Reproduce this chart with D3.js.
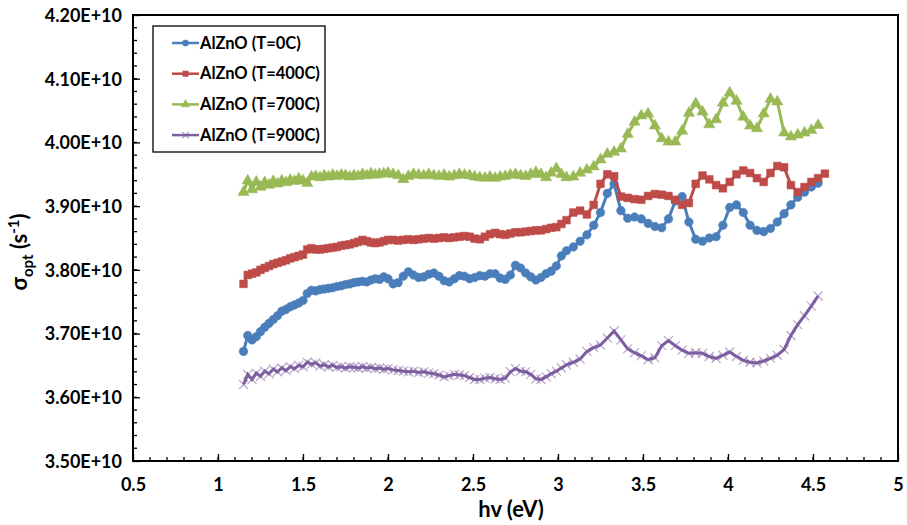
<!DOCTYPE html>
<html>
<head>
<meta charset="utf-8">
<script src="https://cdn.jsdelivr.net/npm/d3@7"></script>
<style>
  body { margin: 0; background: #fff; }
  svg text { font-family: Lato, "Open Sans", sans-serif; font-weight: bold; fill: #000; }
</style>
</head>
<body>
<div id="chart"></div>
<script>
// photon energy (eV), shared by all four series
var hv = [
  1.15, 1.175, 1.2, 1.225, 1.25, 1.275, 1.3, 1.325, 1.35, 1.375, 1.4, 1.425, 1.45, 1.475, 1.5, 1.525, 1.55, 1.575,
  1.6, 1.625, 1.65, 1.675, 1.7, 1.725, 1.75, 1.775, 1.8, 1.825, 1.85, 1.875, 1.9, 1.925, 1.95, 1.975, 2.0,
  2.03, 2.06, 2.09, 2.12, 2.15, 2.18, 2.21, 2.24, 2.27, 2.30, 2.33, 2.36, 2.39, 2.42, 2.45, 2.48, 2.51,
  2.54, 2.57, 2.60, 2.63, 2.66, 2.69, 2.72, 2.75, 2.78, 2.81, 2.84, 2.87, 2.90, 2.93, 2.96, 2.99, 3.02,
  3.05, 3.09, 3.13, 3.17, 3.21, 3.25, 3.29, 3.33, 3.37, 3.41, 3.45, 3.49, 3.53, 3.57, 3.61, 3.65, 3.69,
  3.73, 3.77, 3.81, 3.85, 3.89, 3.93, 3.97, 4.01, 4.05, 4.09, 4.13, 4.17, 4.21, 4.25, 4.29, 4.33, 4.37,
  4.41, 4.45, 4.49, 4.53, 4.57
]

// sigma_opt in units of 1E+10 s^-1
var t0 = [
  3.672, 3.697, 3.690, 3.695, 3.703, 3.710, 3.716, 3.722, 3.728, 3.735, 3.738, 3.742, 3.745, 3.748, 3.752, 3.763, 3.768, 3.767,
  3.769, 3.770, 3.771, 3.772, 3.774, 3.775, 3.777, 3.778, 3.780, 3.781, 3.782, 3.781, 3.784, 3.786, 3.785, 3.789, 3.786,
  3.778, 3.780, 3.790, 3.797, 3.792, 3.788, 3.789, 3.793, 3.795, 3.790, 3.783, 3.781, 3.786, 3.791, 3.790, 3.786, 3.788,
  3.791, 3.790, 3.794, 3.794, 3.787, 3.785, 3.792, 3.807, 3.803, 3.795, 3.789, 3.784, 3.788, 3.794, 3.798, 3.806, 3.822,
  3.830, 3.836, 3.845, 3.855, 3.870, 3.890, 3.920, 3.935, 3.893, 3.881, 3.883, 3.880, 3.873, 3.868, 3.866, 3.880, 3.908,
  3.915, 3.875, 3.848, 3.845, 3.850, 3.852, 3.870, 3.898, 3.902, 3.890, 3.870, 3.862, 3.860, 3.865, 3.875, 3.888, 3.902,
  3.914, 3.922, 3.930, 3.936, null
]
var t400 = [
  3.778, 3.792, 3.794, 3.796, 3.800, 3.803, 3.806, 3.809, 3.811, 3.813, 3.815, 3.818, 3.820, 3.822, 3.824, 3.832, 3.834, 3.832,
  3.832, 3.833, 3.834, 3.835, 3.836, 3.838, 3.839, 3.840, 3.842, 3.844, 3.847, 3.845, 3.843, 3.842, 3.843, 3.845, 3.847,
  3.847, 3.846, 3.847, 3.848, 3.847, 3.848, 3.849, 3.850, 3.849, 3.850, 3.851, 3.850, 3.851, 3.852, 3.853, 3.852, 3.849,
  3.848, 3.852, 3.856, 3.858, 3.856, 3.855, 3.857, 3.859, 3.859, 3.860, 3.861, 3.862, 3.862, 3.864, 3.866, 3.867, 3.872,
  3.878, 3.890, 3.893, 3.887, 3.902, 3.935, 3.950, 3.947, 3.915, 3.913, 3.911, 3.910, 3.916, 3.919, 3.918, 3.916, 3.910,
  3.902, 3.905, 3.935, 3.948, 3.942, 3.933, 3.928, 3.938, 3.950, 3.956, 3.952, 3.944, 3.938, 3.952, 3.963, 3.961, 3.933,
  3.922, 3.930, 3.938, 3.944, 3.951
]
var t700 = [
  3.922, 3.940, 3.926, 3.938, 3.930, 3.937, 3.933, 3.939, 3.935, 3.940, 3.937, 3.941, 3.939, 3.943, 3.940, 3.936, 3.946, 3.947,
  3.945, 3.948, 3.946, 3.949, 3.947, 3.949, 3.948, 3.946, 3.948, 3.947, 3.950, 3.948, 3.951, 3.949, 3.950, 3.951, 3.952,
  3.950, 3.948, 3.942, 3.947, 3.950, 3.949, 3.948, 3.950, 3.948, 3.947, 3.949, 3.946, 3.948, 3.950, 3.949, 3.948, 3.946,
  3.945, 3.944, 3.946, 3.944, 3.946, 3.947, 3.949, 3.950, 3.948, 3.947, 3.950, 3.953, 3.950, 3.945, 3.952, 3.959, 3.950,
  3.945, 3.946, 3.952, 3.957, 3.962, 3.973, 3.982, 3.985, 3.990, 4.013, 4.032, 4.042, 4.045, 4.026, 4.006, 4.001, 4.001,
  4.018, 4.046, 4.061, 4.048, 4.028, 4.036, 4.062, 4.078, 4.065, 4.040, 4.026, 4.022, 4.045, 4.068, 4.064, 4.015, 4.009,
  4.012, 4.015, 4.019, 4.027, null
]
var t900 = [
  3.620, 3.636, 3.628, 3.638, 3.633, 3.641, 3.637, 3.644, 3.640, 3.646, 3.642, 3.648, 3.645, 3.650, 3.648, 3.655, 3.652, 3.654,
  3.649, 3.651, 3.648, 3.650, 3.647, 3.648, 3.646, 3.648, 3.647, 3.646, 3.648, 3.646, 3.647, 3.645, 3.646, 3.644, 3.645,
  3.643, 3.642, 3.641, 3.640, 3.641, 3.639, 3.640, 3.638, 3.637, 3.635, 3.632, 3.634, 3.636, 3.635, 3.634, 3.631, 3.628,
  3.628, 3.630, 3.631, 3.629, 3.628, 3.630, 3.640, 3.645, 3.641, 3.640, 3.636, 3.629, 3.628, 3.632, 3.637, 3.641, 3.646,
  3.651, 3.655, 3.660, 3.672, 3.678, 3.682, 3.693, 3.704, 3.690, 3.676, 3.670, 3.665, 3.659, 3.662, 3.681, 3.689, 3.681,
  3.674, 3.669, 3.670, 3.669, 3.664, 3.661, 3.666, 3.671, 3.664, 3.658, 3.655, 3.654, 3.657, 3.661, 3.666, 3.675, 3.697,
  3.714, 3.728, 3.743, 3.759, null
]

var seriesNames = ["AlZnO (T=0C)", "AlZnO (T=400C)", "AlZnO (T=700C)", "AlZnO (T=900C)"]
var seriesValues = [t0, t400, t700, t900]
var colors = ["#4a7ebb", "#be4b48", "#98b954", "#7d5fa0"]
var markers = ["circle", "square", "triangle", "cross"]

var xTicks = [0.5, 1, 1.5, 2, 2.5, 3, 3.5, 4, 4.5, 5]
var yTicks = [3.5, 3.6, 3.7, 3.8, 3.9, 4.0, 4.1, 4.2]

var width = 907, height = 525
var plotL = 133, plotR = 898, plotT = 15, plotB = 461

var svg = d3.select("#chart").append("svg")
    .attr("width", width)
    .attr("height", height)

var x = d3.scaleLinear().domain([0.5, 5]).range([plotL, plotR])
var y = d3.scaleLinear().domain([3.5, 4.2]).range([plotB, plotT])

// minor ticks (inside)
var xMinor = d3.range(0.5, 5.001, 0.1)
var yMinor = d3.range(3.5, 4.2001, 0.02)

svg.append("g").selectAll("line").data(xMinor).enter().append("line")
    .attr("x1", d => x(d)).attr("x2", d => x(d))
    .attr("y1", plotB).attr("y2", plotB - 4)
    .attr("stroke", "#000").attr("stroke-width", 1.3)
svg.append("g").selectAll("line").data(yMinor).enter().append("line")
    .attr("x1", plotL).attr("x2", plotL + 4)
    .attr("y1", d => y(d)).attr("y2", d => y(d))
    .attr("stroke", "#000").attr("stroke-width", 1.3)

// axes with major ticks pointing inward
var xAxis = d3.axisBottom(x).tickValues(xTicks).tickSize(-7).tickPadding(17)
    .tickFormat(d => String(d))
var yAxis = d3.axisLeft(y).tickValues(yTicks).tickSize(-7).tickPadding(11)
    .tickFormat(d => d.toFixed(2) + "E+10")

var gx = svg.append("g").attr("transform", "translate(0," + plotB + ")").call(xAxis)
var gy = svg.append("g").attr("transform", "translate(" + plotL + ",0)").call(yAxis)
gx.select(".domain").remove()
gy.select(".domain").remove()
gx.selectAll("line").attr("stroke-width", 1.3)
gy.selectAll("line").attr("stroke-width", 1.3)
gx.selectAll("text").style("font-size", "18px")
gy.selectAll("text").style("font-size", "18px").attr("dy", "0.35em")

// frame
svg.append("rect")
    .attr("x", plotL).attr("y", plotT)
    .attr("width", plotR - plotL).attr("height", plotB - plotT)
    .attr("fill", "none").attr("stroke", "#000").attr("stroke-width", 2)

var sym = {
    circle: d3.symbol().type(d3.symbolCircle).size(58),
    square: d3.symbol().type(d3.symbolSquare).size(60),
    triangle: d3.symbol().type(d3.symbolTriangle).size(55),
    cross: d3.symbol().type(d3.symbolTimes).size(55)
}

var line = d3.line()
    .defined(d => d[1] != null)
    .x(d => x(d[0]))
    .y(d => y(d[1]))

var plot = svg.append("g")

seriesValues.forEach(function (vals, i) {
    var pts = hv.map((h, j) => [h, vals[j]])
    var g = plot.append("g")
    g.append("path")
        .datum(pts)
        .attr("d", line)
        .attr("fill", "none")
        .attr("stroke", colors[i])
        .attr("stroke-width", 3)
    g.selectAll("path.mk")
        .data(pts.filter(d => d[1] != null))
        .enter().append("path")
        .attr("class", "mk")
        .attr("transform", d => "translate(" + x(d[0]) + "," + y(d[1]) + ")")
        .attr("d", sym[markers[i]])
        .attr("fill", markers[i] == "cross" ? "none" : colors[i])
        .attr("stroke", colors[i])
        .attr("stroke-width", markers[i] == "cross" ? 1.2 : 0.5)
        .attr("opacity", markers[i] == "cross" ? 0.55 : 1)
})

// legend
var legend = svg.append("g")
legend.append("rect")
    .attr("x", 153).attr("y", 26)
    .attr("width", 172).attr("height", 126)
    .attr("fill", "#fff").attr("stroke", "#000").attr("stroke-width", 1.3)

seriesNames.forEach(function (name, i) {
    var ly = 43 + i * 30.7
    legend.append("line")
        .attr("x1", 172).attr("x2", 199)
        .attr("y1", ly).attr("y2", ly)
        .attr("stroke", colors[i]).attr("stroke-width", 2.5)
    legend.append("path")
        .attr("transform", "translate(185.5," + ly + ")")
        .attr("d", d3.symbol().type(markers[i] == "circle" ? d3.symbolCircle :
            markers[i] == "square" ? d3.symbolSquare :
            markers[i] == "triangle" ? d3.symbolTriangle : d3.symbolTimes).size(30))
        .attr("fill", markers[i] == "cross" ? "none" : colors[i])
        .attr("stroke", colors[i])
        .attr("stroke-width", markers[i] == "cross" ? 1 : 0.5)
    legend.append("text")
        .attr("x", 200).attr("y", ly)
        .attr("dy", "0.35em")
        .style("font-size", "16.5px")
        .text(name)
})

// axis titles
svg.append("text")
    .attr("x", 511).attr("y", 517)
    .attr("text-anchor", "middle")
    .style("font-size", "22px")
    .text("hv (eV)")

var yt = svg.append("text")
    .attr("transform", "translate(27,252) rotate(-90)")
    .attr("text-anchor", "middle")
    .style("font-size", "22px")
yt.append("tspan").text("σ")
yt.append("tspan").attr("dy", 6).style("font-size", "15px").text("opt")
yt.append("tspan").attr("dy", -6).text(" (s")
yt.append("tspan").attr("dy", -8).style("font-size", "15px").text("-1")
yt.append("tspan").attr("dy", 8).text(")")
</script>
</body>
</html>
